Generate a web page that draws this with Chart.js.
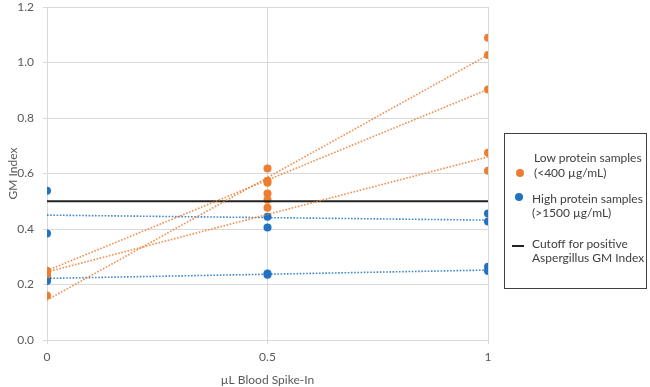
<!DOCTYPE html>
<html>
<head>
<meta charset="utf-8">
<script src="https://cdn.jsdelivr.net/npm/chart.js@4.4.1/dist/chart.umd.min.js"></script>
<style>
    html, body { margin: 0; padding: 0; background: #fff; }
    #wrap { position: relative; width: 650px; height: 387px; }
    #legend {
        position: absolute; left: 504px; top: 133px; width: 141px; height: 154px;
        border: 1.5px solid #404040; font-family: Lato, "Open Sans", sans-serif;
        font-size: 12px; color: #404040;
    }
    #legend .t { position: absolute; white-space: nowrap; line-height: 14px; }
    #legend .dot { position: absolute; width: 8px; height: 8px; border-radius: 50%; }
    #legend .bar { position: absolute; width: 12px; height: 2px; background: #222; }
</style>
</head>
<body>
<div id="wrap">
    <canvas id="gmChart"></canvas>
    <div id="legend">
        <div class="t" style="left:29px; top:17px;">Low protein samples</div>
        <div class="dot" style="left:11px; top:35px; background:#ED7D31;"></div>
        <div class="t" style="left:29px; top:32px;">(&lt;400 µg/mL)</div>
        <div class="dot" style="left:10px; top:59px; background:#2173C2;"></div>
        <div class="t" style="left:27px; top:58px;">High protein samples</div>
        <div class="t" style="left:27px; top:72px;">(&gt;1500 µg/mL)</div>
        <div class="bar" style="left:7px; top:111px;"></div>
        <div class="t" style="left:27px; top:103px;">Cutoff for positive</div>
        <div class="t" style="left:27px; top:117px;">Aspergillus GM Index</div>
    </div>
</div>
<script>
// GM index vs blood spike-in volume

const xTicks = [0, 0.5, 1];

// Low protein samples (<400 µg/mL)
const lowDose = [0, 0, 0, 0, 0.5, 0.5, 0.5, 0.5, 0.5, 0.5, 1, 1, 1, 1, 1];
const lowGM = [0.25, 0.24, 0.235, 0.16, 0.618, 0.574, 0.567, 0.528, 0.505, 0.477, 1.089, 1.027, 0.903, 0.675, 0.61];

// High protein samples (>1500 µg/mL)
const highDose = [0, 0, 0, 0, 0.5, 0.5, 0.5, 0.5, 1, 1, 1, 1];
const highGM = [0.538, 0.384, 0.222, 0.213, 0.444, 0.405, 0.24, 0.235, 0.456, 0.427, 0.264, 0.249];

// Linear trendlines (value at 0 and at 1 µL)
const lowTrendStart = [0.144, 0.25, 0.245];
const lowTrendEnd = [1.027, 0.903, 0.66];
const highTrendStart = [0.45, 0.222];
const highTrendEnd = [0.432, 0.252];

const cutoff = 0.5;

const orange = '#ED7D31';
const blue = '#2173C2';
const gridColor = '#d9d9d9';
const textColor = '#595959';

function pts(xs, ys) {
    return xs.map((x, i) => ({x: x, y: ys[i]}));
}

function trend(start, end, color) {
    return start.map((s, i) => ({
        type: 'line',
        data: [{x: xTicks[0], y: s}, {x: xTicks[xTicks.length - 1], y: end[i]}],
        borderColor: color,
        borderWidth: 1.6,
        borderDash: [1.6, 1.6],
        pointRadius: 0,
        fill: false
    }));
}

const datasets = [
    ...trend(lowTrendStart, lowTrendEnd, 'rgba(237,125,49,0.85)'),
    ...trend(highTrendStart, highTrendEnd, 'rgba(33,115,194,0.85)'),
    {
        type: 'line',
        data: [{x: xTicks[0], y: cutoff}, {x: xTicks[xTicks.length - 1], y: cutoff}],
        borderColor: '#222',
        borderWidth: 2,
        pointRadius: 0
    },
    {
        label: 'Low protein samples',
        data: pts(lowDose, lowGM),
        backgroundColor: orange,
        borderColor: orange,
        pointRadius: 4,
        borderWidth: 0
    },
    {
        label: 'High protein samples',
        data: pts(highDose, highGM),
        backgroundColor: blue,
        borderColor: blue,
        pointRadius: 4,
        borderWidth: 0
    }
];

const ctx = document.getElementById('gmChart').getContext('2d');
new Chart(ctx, {
    type: 'scatter',
    data: { datasets: datasets },
    options: {
        responsive: true,
        maintainAspectRatio: false,
        animation: false,
        layout: { padding: { left: 0, top: 7, right: 162, bottom: 0 } },
        plugins: { legend: { display: false }, tooltip: { enabled: false } },
        scales: {
            x: {
                type: 'linear',
                min: 0,
                max: 1,
                afterFit: function(scale) { scale.height = 47; },
                afterBuildTicks: function(scale) { scale.ticks = xTicks.map(v => ({value: v})); },
                ticks: {
                    color: textColor,
                    padding: 6,
                    font: { family: 'Lato', size: 12 },
                    callback: function(v) { return String(v); }
                },
                grid: { color: gridColor, tickLength: 4 },
                border: { color: gridColor },
                title: {
                    display: true,
                    text: 'µL Blood Spike-In',
                    color: textColor,
                    font: { family: 'Lato', size: 12 },
                    padding: { top: 0, bottom: 0 }
                }
            },
            y: {
                min: 0,
                max: 1.2,
                afterFit: function(scale) {
                    scale.width = 47;
                    // keep the plot top at the layout padding only
                    scale.paddingTop = 0;
                    scale.paddingBottom = 0;
                },
                ticks: {
                    stepSize: 0.2,
                    color: textColor,
                    padding: 9,
                    font: { family: 'Lato', size: 12 },
                    callback: function(v) { return v.toFixed(1); }
                },
                grid: { color: gridColor, tickLength: 4 },
                border: { color: gridColor },
                title: {
                    display: true,
                    text: 'GM Index',
                    color: textColor,
                    font: { family: 'Lato', size: 12 },
                    padding: { top: 6, bottom: 0 }
                }
            }
        }
    }
});
</script>
</body>
</html>
